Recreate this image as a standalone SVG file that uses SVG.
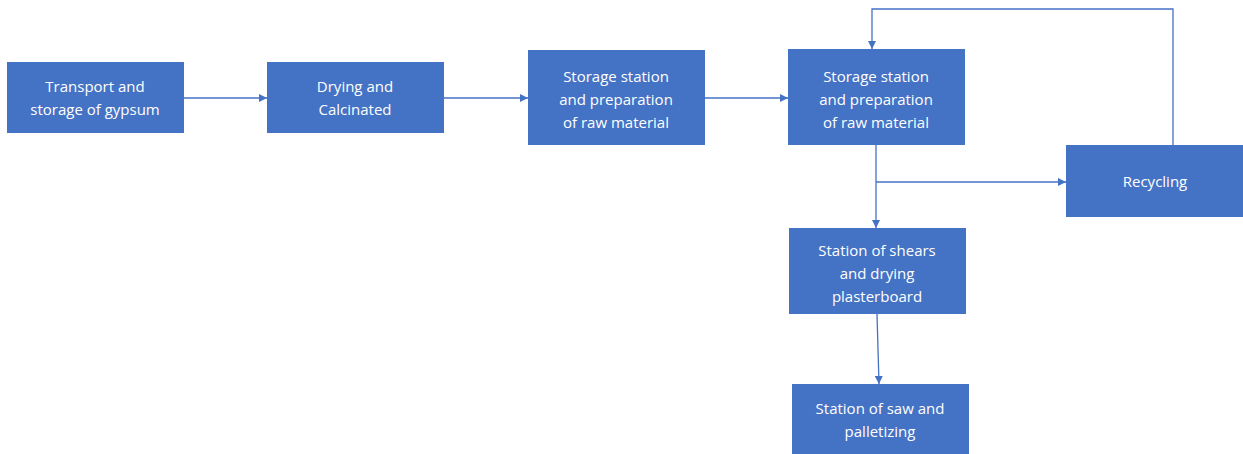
<svg xmlns="http://www.w3.org/2000/svg" width="1243" height="454" viewBox="0 0 1243 454">
<style>
.box{fill:#4472C4;}
.t{font-family:"Open Sans","Liberation Sans",sans-serif;font-size:15px;fill:#FFFFFF;text-anchor:middle;}
.c{fill:none;stroke:#4472C4;stroke-width:1.3;}
</style>
<defs>
<marker id="ah" viewBox="0 0 10 10" refX="10" refY="5" markerWidth="8" markerHeight="8" markerUnits="userSpaceOnUse" orient="auto">
<path d="M0,0 L10,5 L0,10 z" fill="#4472C4"/>
</marker>
</defs>
<rect width="1243" height="454" fill="#FFFFFF"/>
<g id="connectors">
<line class="c" x1="184" y1="98" x2="267" y2="98" marker-end="url(#ah)"/>
<line class="c" x1="444" y1="98" x2="528" y2="98" marker-end="url(#ah)"/>
<line class="c" x1="705" y1="98" x2="788" y2="98" marker-end="url(#ah)"/>
<line class="c" x1="876" y1="145" x2="876" y2="228" marker-end="url(#ah)"/>
<line class="c" x1="876" y1="182" x2="1066" y2="182" marker-end="url(#ah)"/>
<polyline class="c" points="1173,145 1173,9 872,9 872,49" marker-end="url(#ah)"/>
<line class="c" x1="877" y1="314" x2="879" y2="384" marker-end="url(#ah)"/>
</g>
<g id="n1"><rect class="box" x="7" y="62" width="177" height="71"/>
<text class="t" x="95" y="92">Transport and</text><text class="t" x="95" y="115">storage of gypsum</text></g>
<g id="n2"><rect class="box" x="267" y="62" width="177" height="71"/>
<text class="t" x="355" y="92">Drying and</text><text class="t" x="355" y="115">Calcinated</text></g>
<g id="n3"><rect class="box" x="528" y="50" width="177" height="95"/>
<text class="t" x="616" y="82">Storage station</text><text class="t" x="616" y="105">and preparation</text><text class="t" x="616" y="128">of raw material</text></g>
<g id="n4"><rect class="box" x="788" y="49" width="177" height="96"/>
<text class="t" x="876" y="82">Storage station</text><text class="t" x="876" y="105">and preparation</text><text class="t" x="876" y="128">of raw material</text></g>
<g id="n5"><rect class="box" x="1066" y="145" width="177" height="72"/>
<text class="t" x="1155" y="187">Recycling</text></g>
<g id="n6"><rect class="box" x="789" y="228" width="177" height="86"/>
<text class="t" x="877" y="256">Station of shears</text><text class="t" x="877" y="279">and drying</text><text class="t" x="877" y="302">plasterboard</text></g>
<g id="n7"><rect class="box" x="792" y="384" width="177" height="70"/>
<text class="t" x="880" y="414">Station of saw and</text><text class="t" x="880" y="437">palletizing</text></g>
</svg>
